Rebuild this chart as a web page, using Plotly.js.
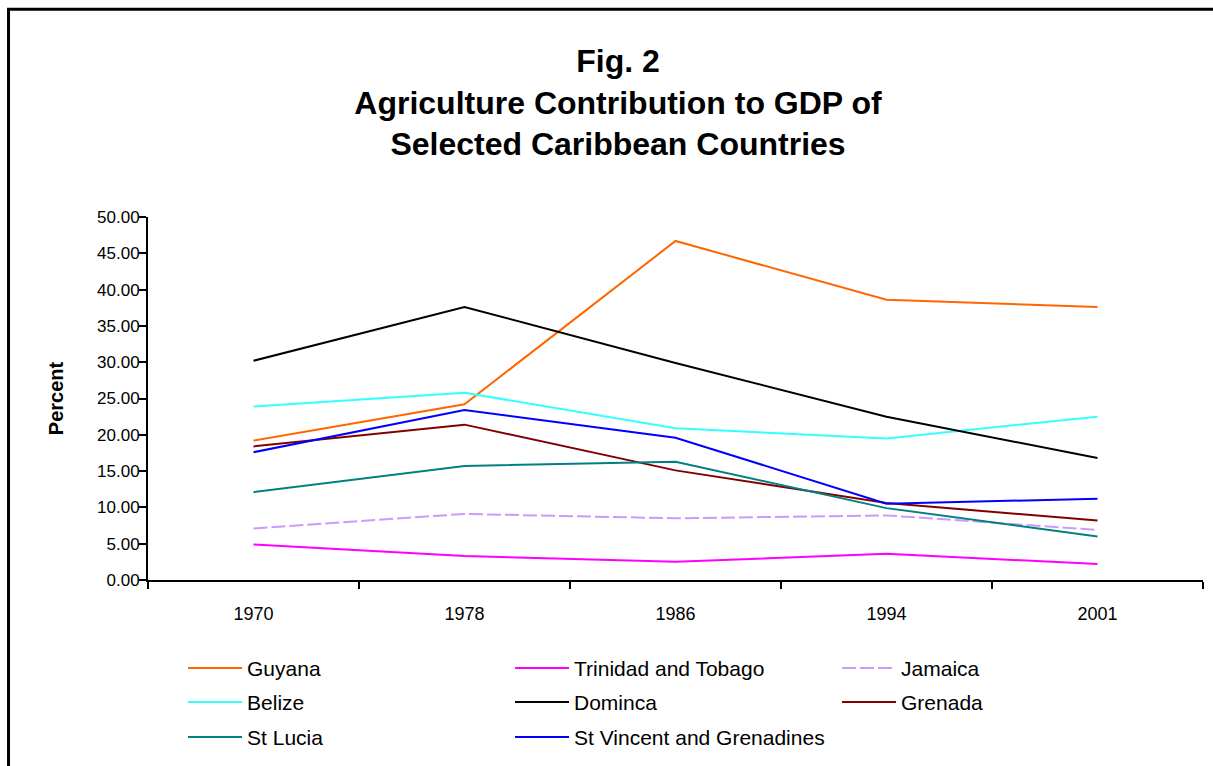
<!DOCTYPE html>
<html>
<head>
<meta charset="utf-8">
<script src="https://cdn.plot.ly/plotly-3.0.1.min.js"></script>
<style>html,body{margin:0;padding:0;background:#fff;}#chart{width:1213px;height:766px;}</style>
</head>
<body>
<div id="chart"></div>
<script>
const years = ["1970", "1978", "1986", "1994", "2001"];
const guyana = [19.2, 24.2, 46.7, 38.6, 37.6];
const trinidad = [4.9, 3.3, 2.5, 3.6, 2.2];
const jamaica = [7.1, 9.1, 8.5, 8.9, 6.9];
const belize = [23.9, 25.8, 20.9, 19.5, 22.5];
const dominica = [30.2, 37.6, 29.9, 22.5, 16.8];
const grenada = [18.4, 21.4, 15.1, 10.6, 8.2];
const stLucia = [12.1, 15.7, 16.3, 9.9, 6.0];
const stVincent = [17.6, 23.4, 19.6, 10.5, 11.2];

const font = "Liberation Sans, Arial, sans-serif";

function tr(name, y, color, legend, dash) {
  return {
    type: "scatter", mode: "lines", name: name, x: years, y: y,
    line: {color: color, width: 2, dash: dash || "solid"},
    legend: legend
  };
}

const data = [
  tr("Guyana", guyana, "#ff6600", "legend"),
  tr("Trinidad and Tobago", trinidad, "#ff00ff", "legend"),
  tr("Jamaica", jamaica, "#cc99ff", "legend", "14px,4px"),
  tr("Belize", belize, "#33ffff", "legend2"),
  tr("Dominca", dominica, "#000000", "legend2"),
  tr("Grenada", grenada, "#800000", "legend2"),
  tr("St Lucia", stLucia, "#008080", "legend3"),
  tr("St Vincent and Grenadines", stVincent, "#0000ff", "legend3")
];

function leg(y) {
  return {
    orientation: "h", x: 0.0332, xanchor: "left", y: y, yanchor: "middle",
    font: {family: font, size: 21, color: "#000"},
    itemwidth: 54, entrywidth: 258, entrywidthmode: "pixels",
    bgcolor: "rgba(0,0,0,0)", borderwidth: 0, itemclick: false, itemdoubleclick: false
  };
}

const layout = {
  width: 1213, height: 766,
  margin: {l: 148, r: 10, t: 217, b: 185, pad: 0},
  paper_bgcolor: "#fff", plot_bgcolor: "#fff",
  font: {family: font, color: "#000"},
  title: {
    text: "<b>Fig. 2<br>Agriculture Contribution to GDP of<br>Selected Caribbean Countries</b>",
    font: {family: font, size: 32, color: "#000"},
    x: 618 / 1213, xref: "container", xanchor: "center",
    y: 1 - 72 / 766, yref: "container", yanchor: "middle"
  },
  xaxis: {
    type: "category", range: [-0.5, 4.5], tickson: "boundaries",
    ticks: "outside", ticklen: 7, tickwidth: 2, tickcolor: "#000",
    showline: true, linecolor: "#000", linewidth: 2, showgrid: false, zeroline: false,
    tickfont: {family: font, size: 18, color: "#000"}, ticklabelstandoff: 16, fixedrange: true
  },
  yaxis: {
    range: [0, 50], dtick: 5, tick0: 0, tickformat: ".2f",
    ticks: "outside", ticklen: 7, tickwidth: 2, tickcolor: "#000",
    showline: true, linecolor: "#000", linewidth: 2, showgrid: false, zeroline: false,
    tickfont: {family: font, size: 17, color: "#000"}, ticklabelstandoff: -4,
    title: {text: "<b>Percent</b>", font: {family: font, size: 20, color: "#000"}, standoff: 28},
    fixedrange: true
  },
  legend: leg(-0.240),
  legend2: leg(-0.3335),
  legend3: leg(-0.4298),
  shapes: [{
    type: "rect", xref: "paper", yref: "paper",
    x0: -0.1322, x1: 1.05, y0: -0.7, y1: 1.572,
    line: {color: "#000", width: 3}, fillcolor: "rgba(0,0,0,0)", layer: "below"
  }]
};

Plotly.newPlot("chart", data, layout, {displayModeBar: false, staticPlot: true});
</script>
</body>
</html>
